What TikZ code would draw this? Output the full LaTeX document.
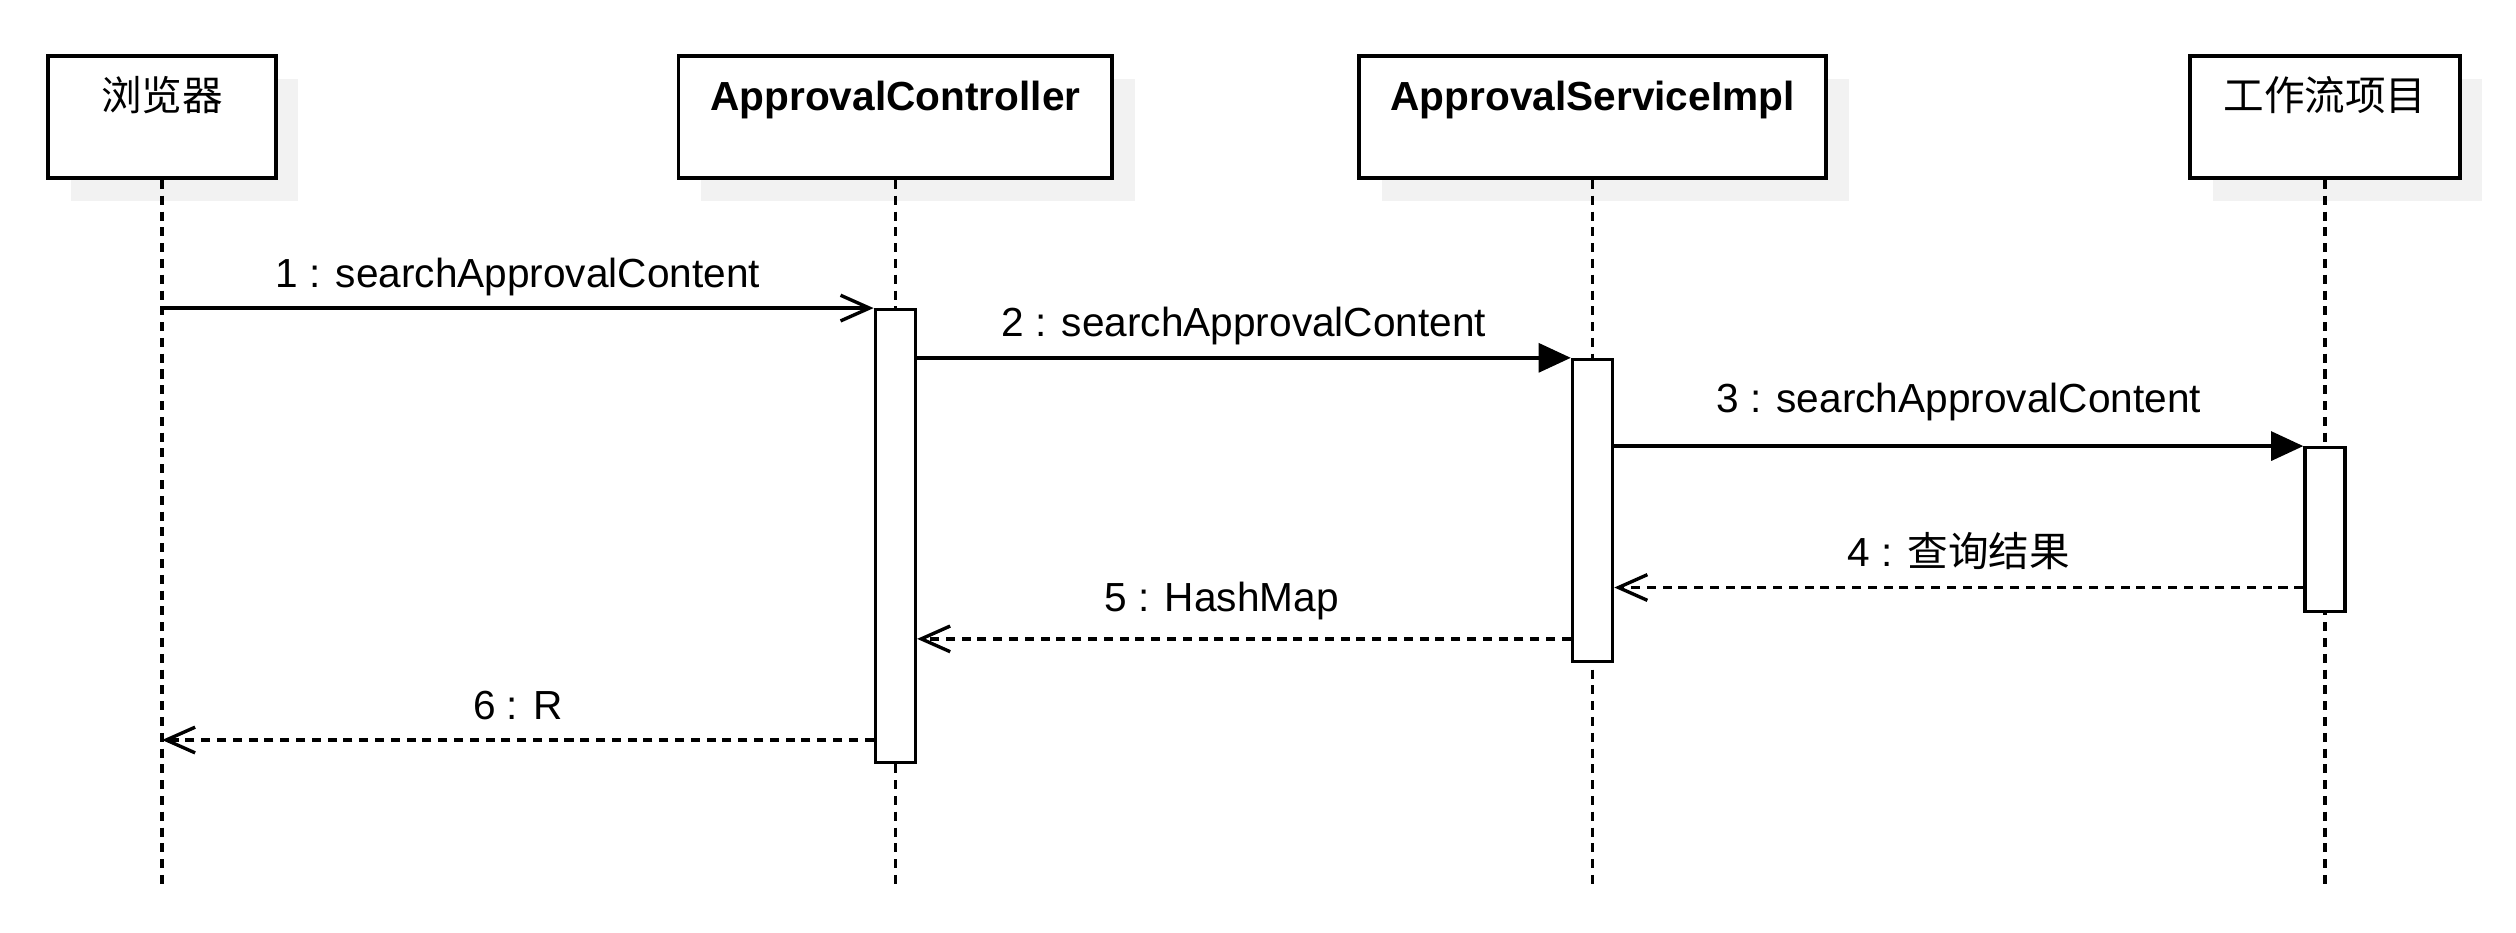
\documentclass[tikz,border=0pt]{standalone}
\usepackage{fontspec}
\setmainfont{Liberation Sans}
\newfontfamily\cjk{Noto Sans CJK SC}
\usetikzlibrary{arrows.meta,shadows}

\begin{document}
\begin{tikzpicture}[x=0.025cm, y=-0.025cm,
    font=\fontsize{18}{22}\selectfont,
    obj/.style={draw, line width=1.6pt, fill=white, inner sep=0pt,
        minimum height=1.9cm, text height=24pt, text depth=30pt,
        drop shadow={shadow xshift=0.35cm, shadow yshift=-0.35cm, fill=black!5, opacity=1}},
    act/.style={draw, line width=1.5pt, fill=white, inner sep=0pt,
        minimum width=0.625cm, anchor=north},
    life/.style={line width=1.4pt, dash pattern=on 4pt off 3pt},
    msg/.style={above, text depth=0.25em, inner sep=6pt},
    call/.style={line width=1.5pt},
    ret/.style={line width=1.5pt, dash pattern=on 4pt off 3pt,
        -{Straight Barb[length=0.45cm, width=0.4cm]}}
]
    \useasboundingbox (0,0) rectangle (1568,581);

    % Objects
    \node[obj, minimum width=3.55cm] (brw) at (101,73) {\cjk 浏览器};
    \node[obj, minimum width=6.75cm] (ctl) at (558,73) {\textbf{ApprovalController}};
    \node[obj, minimum width=7.275cm] (svc) at (992.5,73) {\textbf{ApprovalServiceImpl}};
    \node[obj, minimum width=4.2cm] (wf) at (1449,73) {\cjk 工作流项目};

    % Lifelines
    \coordinate (bot) at (0,552);
    \foreach \n in {brw,ctl,svc,wf}
        \draw[life] (\n.south) -- (\n.south |- bot);

    % Activations
    \node[act, minimum height=7.05cm] (a1) at (ctl.south |- 0,192) {};
    \node[act, minimum height=4.7cm] (a2) at (svc.south |- 0,223) {};
    \node[act, minimum height=2.55cm] (a3) at (wf.south |- 0,278) {};

    \coordinate (r4) at ([yshift=0.4cm]a3.south);
    \coordinate (r5) at ([yshift=0.375cm]a2.south);
    \coordinate (r6) at ([yshift=0.375cm]a1.south);

    % Calls
    \draw[call, -{Straight Barb[length=0.45cm, width=0.4cm]}] (brw.south |- a1.north) -- (a1.north west)
        node[msg, midway] {1 : searchApprovalContent};
    \draw[call, -{Triangle[length=0.5cm, width=0.45cm]}] (a1.east |- a2.north) -- (a2.north west)
        node[msg, midway] {2 : searchApprovalContent};
    \draw[call, -{Triangle[length=0.5cm, width=0.45cm]}] (a2.east |- a3.north) -- (a3.north west)
        node[msg, midway, yshift=0.2cm] {3 : searchApprovalContent};

    % Returns
    \draw[ret] (a3.west |- r4) -- (a2.east |- r4) node[msg, midway] {4 : {\cjk 查询结果}};
    \draw[ret] (a2.west |- r5) -- (a1.east |- r5) node[msg, pos=0.534, yshift=0.1cm] {5 : HashMap};
    \draw[ret] (a1.west |- r6) -- (brw.south |- r6) node[msg, midway] {6 : R};
\end{tikzpicture}
\end{document}
